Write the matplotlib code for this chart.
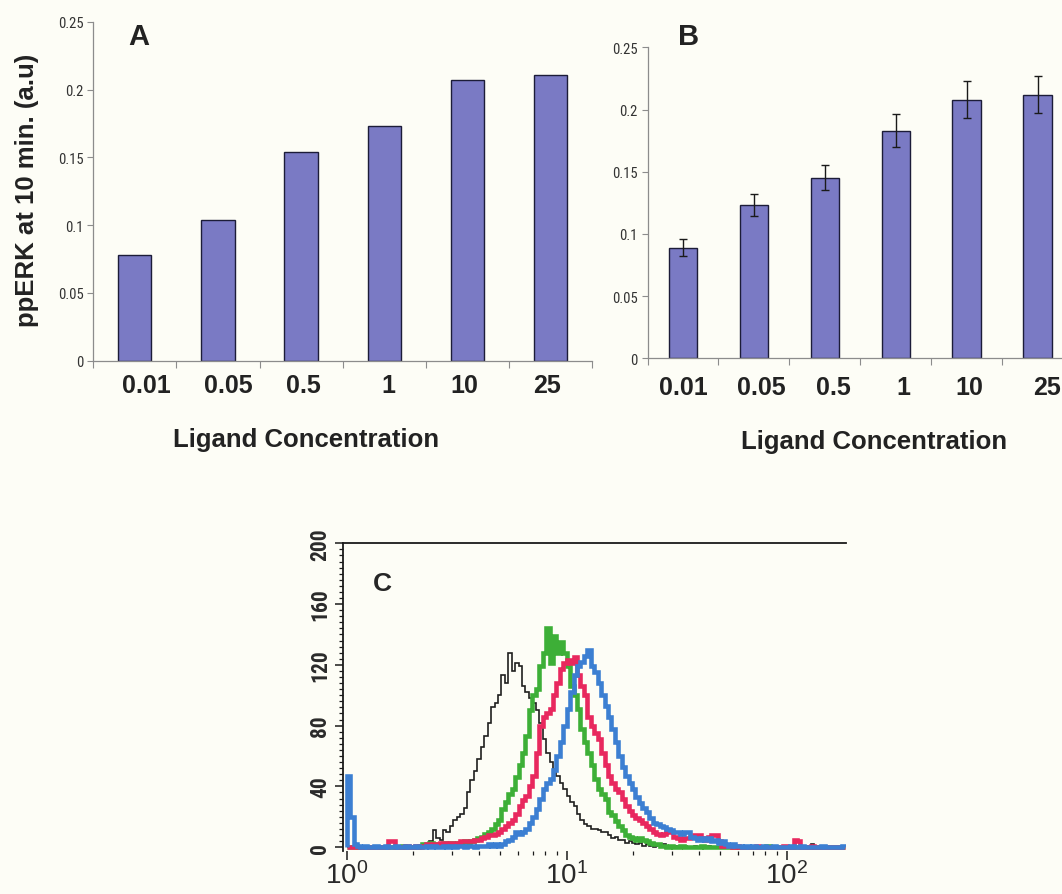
import numpy as np
import matplotlib
matplotlib.use("Agg")
import matplotlib.pyplot as plt
from matplotlib import font_manager
from matplotlib.font_manager import FontProperties
from matplotlib.ticker import MultipleLocator, LogLocator, NullFormatter
from matplotlib.transforms import ScaledTranslation


def pick(names):
    avail = {f.name for f in font_manager.fontManager.ttflist}
    for n in names:
        if n in avail:
            return n
    return "DejaVu Sans"


def narrow_font():
    """Find a narrow sans face; fall back to the regular sans."""
    entries = font_manager.fontManager.ttflist
    avail = {f.name for f in entries}
    for n in ["Liberation Sans Narrow", "Arial Narrow", "Roboto Condensed",
              "Open Sans Condensed", "Noto Sans Condensed", "DejaVu Sans Condensed"]:
        if n in avail:
            return {"family": n}
    for fam in ["Noto Sans", "Roboto", "Open Sans", "DejaVu Sans"]:
        for f in entries:
            if f.name == fam and f.stretch in ("condensed", "semi-condensed"):
                return {"family": fam, "stretch": f.stretch}
    return {"family": SANS}


SANS = pick(["Liberation Sans", "Arial", "DejaVu Sans"])
NARROW = narrow_font()
MATH_FONT = NARROW["family"] if "stretch" not in NARROW else SANS

plt.rcParams["font.family"] = [SANS, "DejaVu Sans"]
plt.rcParams["mathtext.fontset"] = "custom"
plt.rcParams["mathtext.rm"] = MATH_FONT
plt.rcParams["mathtext.it"] = MATH_FONT
plt.rcParams["mathtext.default"] = "rm"

# ---------------- data ----------------
concentrations = ["0.01", "0.05", "0.5", "1", "10", "25"]
ppERK_A = [0.078, 0.104, 0.154, 0.173, 0.207, 0.211]
ppERK_B = [0.089, 0.123, 0.145, 0.183, 0.208, 0.212]
ppERK_B_err = [0.0065, 0.009, 0.010, 0.013, 0.015, 0.015]
y_ticks_ab = [0, 0.05, 0.1, 0.15, 0.2, 0.25]
y_ticklabels_ab = ["0", "0.05", "0.1", "0.15", "0.2", "0.25"]

# flow cytometry histograms, 64 log channels per decade starting at 10^0
channels_per_decade = 64
counts_control = [
    0, 0, 0, 0, 0, 0, 0, 0, 0, 0,
    0, 0, 0, 0, 0, 0, 0, 0, 1, 0,
    0, 1, 1, 2, 4, 11, 6, 5, 11, 10,
    14, 18, 20, 22, 26, 36, 44, 50, 58, 66,
    73, 82, 92, 95, 100, 113, 108, 128, 116, 121,
    119, 106, 102, 98, 95, 90, 82, 71, 62, 56,
    51, 47, 42, 38, 34, 30, 27, 22, 18, 15,
    14, 12, 12, 11, 10, 10, 8, 6, 7, 5,
    5, 3, 4, 3, 2, 3, 1, 2, 1, 0,
    1, 0, 2, 1, 0, 1, 0, 0, 1, 0,
    0, 1, 0, 0, 0, 1, 0, 0, 0, 0,
    0, 0, 1, 0, 0, 0, 0, 0, 0, 0,
    0, 0, 0, 0, 0, 0, 0, 0, 0, 0,
    0, 0, 0, 0, 1, 2, 1, 0, 0, 0,
    0, 0, 0, 0, 0,
]
counts_green = [
    0, 0, 0, 0, 0, 0, 0, 0, 0, 0,
    0, 0, 0, 0, 0, 0, 1, 0, 0, 0,
    0, 1, 2, 1, 3, 2, 1, 2, 3, 2,
    3, 2, 3, 3, 4, 3, 4, 5, 6, 7,
    9, 10, 12, 15, 18, 25, 30, 35, 38, 46,
    54, 62, 73, 90, 100, 104, 119, 128, 144, 121,
    139, 128, 135, 128, 119, 106, 100, 91, 78, 69,
    62, 54, 45, 38, 35, 32, 23, 21, 17, 14,
    11, 8, 7, 6, 5, 6, 5, 4, 3, 2,
    2, 1, 1, 0, 1, 0, 0, 1, 0, 0,
    0, 0, 0, 1, 0, 0, 0, 0, 0, 0,
    0, 0, 0, 0, 0, 0, 0, 0, 0, 0,
    0, 0, 1, 0, 0, 0, 0, 0, 0, 0,
    0, 0, 0, 0, 0, 0, 0, 0, 0, 0,
    0, 0, 0, 0, 0,
]
counts_red = [
    0, 0, 0, 0, 0, 0, 0, 0, 0, 0,
    0, 0, 4, 4, 0, 0, 0, 1, 0, 0,
    1, 0, 1, 2, 1, 2, 2, 3, 3, 2,
    3, 3, 3, 4, 4, 4, 4, 5, 5, 6,
    7, 8, 8, 9, 10, 12, 14, 16, 18, 22,
    27, 31, 34, 40, 47, 62, 80, 86, 88, 91,
    100, 108, 117, 121, 123, 121, 125, 113, 106, 100,
    86, 80, 75, 71, 62, 54, 47, 42, 38, 36,
    32, 27, 24, 21, 19, 18, 16, 14, 12, 10,
    9, 8, 9, 10, 10, 7, 6, 5, 6, 6,
    7, 8, 8, 6, 5, 7, 8, 8, 4, 1,
    1, 1, 0, 1, 0, 0, 0, 0, 0, 1,
    0, 0, 0, 0, 0, 0, 0, 1, 0, 0,
    5, 4, 0, 0, 0, 1, 0, 0, 0, 0,
    0, 0, 0, 0, 0,
]
counts_blue = [
    47, 20, 2, 1, 0, 1, 0, 0, 1, 0,
    0, 1, 0, 0, 1, 0, 0, 1, 0, 0,
    1, 0, 0, 1, 0, 1, 0, 0, 1, 0,
    1, 0, 1, 1, 0, 1, 1, 0, 1, 1,
    1, 2, 1, 2, 1, 2, 4, 5, 7, 10,
    9, 10, 12, 16, 20, 25, 32, 38, 42, 45,
    51, 60, 69, 80, 91, 102, 113, 119, 122, 126,
    130, 119, 115, 108, 100, 93, 86, 78, 69, 60,
    53, 47, 42, 38, 33, 29, 26, 23, 19, 16,
    15, 14, 13, 12, 11, 10, 10, 9, 10, 10,
    7, 6, 5, 6, 5, 6, 4, 5, 3, 4,
    2, 1, 2, 1, 1, 0, 1, 0, 1, 0,
    0, 1, 0, 0, 1, 0, 0, 0, 0, 1,
    0, 0, 1, 0, 0, 0, 0, 0, 1, 0,
    0, 0, 0, 0, 1,
]
c_yticks = [0, 40, 80, 120, 160, 200]

# ---------------- style ----------------
W, H = 1062, 895
BG = "#fdfdf6"
BAR = "#7a7ac4"
BAR_EDGE = "#1c1c38"
AXIS_GRAY = "#8c8c8c"
TXT = "#222222"


def box(l, t, r, b):
    return [l / W, 1 - b / H, (r - l) / W, (b - t) / H]


fig = plt.figure(figsize=(W / 100, H / 100), dpi=100, facecolor=BG)


def bar_panel(rect, values, errors, label_shift):
    ax = fig.add_axes(rect)
    ax.set_facecolor("none")
    xc = np.arange(len(values)) + 0.5
    ax.bar(xc, values, width=0.4, color=BAR, edgecolor=BAR_EDGE, linewidth=1.0,
           zorder=2)
    if errors is not None:
        ax.errorbar(xc, values, yerr=errors, fmt="none", ecolor="#1a1a1a",
                    elinewidth=1.0, capsize=2.6, capthick=1.0, zorder=3)
    ax.set_xlim(0, len(values))
    ax.set_ylim(0, 0.25)
    for s in ("top", "right"):
        ax.spines[s].set_visible(False)
    for s in ("left", "bottom"):
        ax.spines[s].set_color(AXIS_GRAY)
        ax.spines[s].set_linewidth(0.9)
    ax.set_yticks(y_ticks_ab)
    ax.set_yticklabels(y_ticklabels_ab, color="#333333")
    for lab in ax.get_yticklabels():
        lab.set_fontproperties(FontProperties(size=10.5, **NARROW))
    ax.tick_params(axis="y", length=4, width=0.8, color=AXIS_GRAY, pad=3)
    ax.set_xticks(np.arange(len(values) + 1))
    ax.set_xticklabels([])
    ax.tick_params(axis="x", which="major", length=5, width=0.8, color=AXIS_GRAY)
    ax.set_xticks(xc, minor=True)
    ax.set_xticklabels(concentrations, minor=True, fontsize=18, fontweight="bold",
                       color=TXT)
    ax.tick_params(axis="x", which="minor", length=0, pad=label_shift[0])
    for lab, dx in zip(ax.get_xticklabels(minor=True), label_shift[1]):
        lab.set_transform(lab.get_transform()
                          + ScaledTranslation(dx / 100, 0, fig.dpi_scale_trans))
    return ax


axA = bar_panel(box(93.3, 22.7, 592, 361.7), ppERK_A, None,
                (9, [12, 10, 2, 4, -3, -3]))
axB = bar_panel(box(647.5, 48.3, 1073, 359.3), ppERK_B, ppERK_B_err,
                (12, [0, 7, 9, 8, 3, 9]))

fig.text(27 / W, 1 - 190 / H, "ppERK at 10 min. (a.u)", rotation=90,
         ha="center", va="center", fontsize=18.5, fontweight="bold", color=TXT)
fig.text(306 / W, 1 - 440 / H, "Ligand Concentration", ha="center", va="center",
         fontsize=18.5, fontweight="bold", color=TXT)
fig.text(874 / W, 1 - 442 / H, "Ligand Concentration", ha="center", va="center",
         fontsize=18.5, fontweight="bold", color=TXT)
fig.text(139 / W, 1 - 37 / H, "A", ha="center", va="center", fontsize=21,
         fontweight="bold", color=TXT)
fig.text(689 / W, 1 - 37 / H, "B", ha="center", va="center", fontsize=21,
         fontweight="bold", color=TXT)

# ---------------- panel C: histograms ----------------
axC = fig.add_axes(box(342.7, 544.3, 846, 852))
axC.set_facecolor("none")
n_ch = len(counts_blue)
edges = 10 ** (np.arange(n_ch + 1) / channels_per_decade)

axC.stairs(counts_control, edges, color="#1f1f1f", linewidth=1.2, zorder=2)
axC.stairs(counts_green, edges, color="#3daf37", linewidth=3.3, zorder=3)
axC.stairs(counts_red, edges, color="#e8285e", linewidth=3.3, zorder=4)
axC.stairs(counts_blue, edges, color="#3c7fd2", linewidth=3.3, zorder=5)

axC.set_xscale("log")
axC.set_xlim(10 ** -0.0182, 10 ** 2.2695)
axC.set_ylim(-2.5, 200)
axC.spines["right"].set_visible(False)
axC.spines["bottom"].set_visible(False)
for s in ("left", "top"):
    axC.spines[s].set_color("#1a1a1a")
    axC.spines[s].set_linewidth(1.3)

axC.set_yticks(c_yticks)
axC.yaxis.set_minor_locator(MultipleLocator(4))
axC.tick_params(axis="y", which="major", direction="out", length=5.5, width=1.1,
                color="#1a1a1a", labelrotation=90, pad=3, labelcolor="#2a2a2a")
axC.tick_params(axis="y", which="minor", direction="out", length=3, width=0.9,
                color="#1a1a1a")
for lab in axC.get_yticklabels():
    lab.set_fontproperties(FontProperties(size=15.5, weight="bold", **NARROW))
    lab.set_va("center")

axC.xaxis.set_major_locator(LogLocator(base=10, numticks=10))
axC.xaxis.set_minor_locator(LogLocator(base=10, subs=np.arange(2, 10), numticks=20))
axC.xaxis.set_minor_formatter(NullFormatter())
axC.tick_params(axis="x", which="major", direction="out", length=6.5, width=1.1,
                color="#1a1a1a", labelsize=20, pad=1, labelcolor="#2a2a2a")
axC.tick_params(axis="x", which="minor", direction="out", length=3, width=0.9,
                color="#1a1a1a")
fig.text(382 / W, 1 - 584 / H, "C", ha="center", va="center", fontsize=19,
         fontweight="bold", color="#262626")

fig.savefig("out.png", dpi=100, facecolor=BG)
